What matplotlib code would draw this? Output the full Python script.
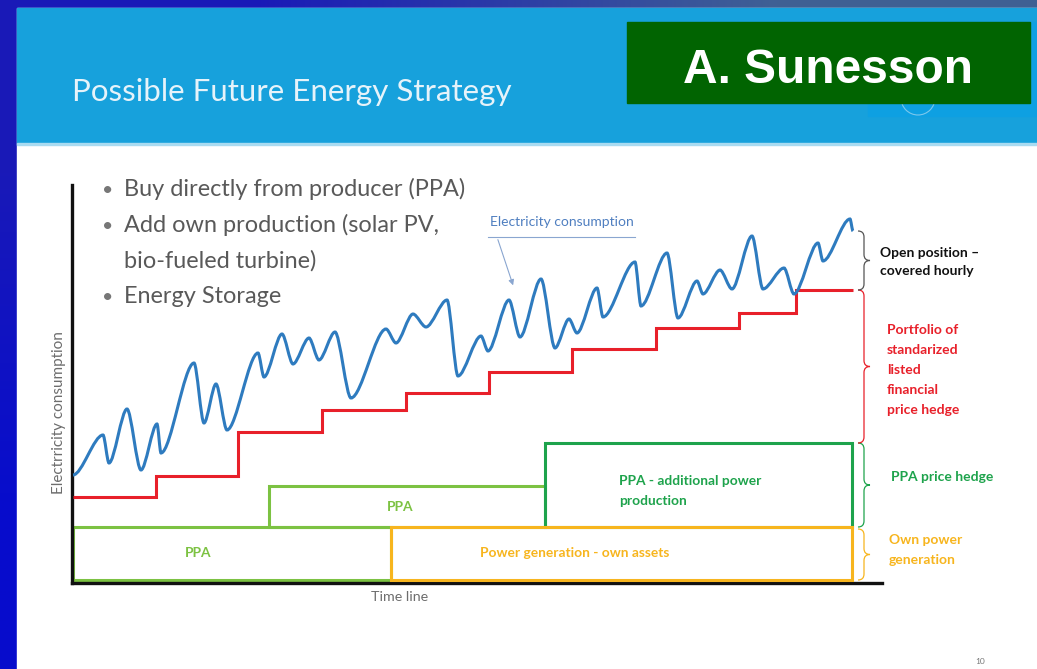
import numpy as np
import matplotlib.pyplot as plt
from matplotlib.patches import Rectangle, PathPatch, Circle
from matplotlib.path import Path

# electricity consumption, peaks and troughs (time, consumption)
curve_t = [1, 31, 37, 55, 69, 85, 89, 122, 132, 144, 155, 186, 192, 210, 221, 237, 247,
           263, 279, 314, 324, 341, 354, 375, 386, 409, 416, 437, 448, 469, 483, 497, 505,
           525, 531, 563, 569, 595, 606, 625, 631, 648, 660, 680, 691, 712, 722, 746, 751,
           778, 781]
curve_c = [108, 148, 120, 174, 113, 159, 130, 220, 160, 199, 153, 230, 206, 249, 219, 245, 223,
           251, 185, 254, 240, 269, 256, 283, 207, 247, 232, 283, 246, 304, 235, 264, 250,
           295, 266, 321, 277, 330, 265, 302, 289, 313, 294, 347, 294, 315, 289, 340, 322,
           364, 352]

# listed financial hedge, step levels
step_edges = [1, 84, 166, 250, 334, 417, 500, 584, 667, 724, 781]
step_levels = [86, 107, 151, 173, 190, 211, 234, 255, 270, 293]

# contract blocks: start, end, low, high
box_names = ["PPA", "PPA", "PPA - additional power\nproduction", "Power generation - own assets"]
box_start = [1, 197, 473, 319]
box_end = [319, 473, 780, 780]
box_low = [3, 56, 56, 3]
box_high = [56, 97, 140, 56]
box_colors = ["#7cc242", "#7cc242", "#1ea34c", "#f7b51e"]

# right hand braces (low, high)
brace_low = [3, 56, 140, 293]
brace_high = [54, 140, 293, 352]
brace_colors = ["#f7b51e", "#1ea34c", "#e8202a", "#555555"]

bullets = ["Buy directly from producer (PPA)", "Add own production (solar PV,",
           "bio-fueled turbine)", "Energy Storage"]

FONT = "Lato"

fig = plt.figure(figsize=(10.37, 6.69), dpi=100)

# slide background (pixel coordinates)
bg = fig.add_axes([0, 0, 1, 1])
bg.set_xlim(0, 1037)
bg.set_ylim(669, 0)
bg.axis("off")
grad = np.array([[[0.10, 0.10, 0.72], [0.25, 0.38, 0.58]],
                 [[0.03, 0.05, 0.80], [0.10, 0.20, 0.70]]])
bg.imshow(grad, extent=(0, 1037, 669, 0), interpolation="bilinear", aspect="auto")
bg.add_patch(Rectangle((17, 8), 1020, 661, color="white"))
bg.add_patch(Rectangle((17, 8), 1020, 136, color="#17a1dc"))
bg.add_patch(Rectangle((17, 143), 1020, 2, color="#a9dbf1"))
bg.add_patch(Rectangle((868, 22), 169, 94, color="#0ea0e2"))
bg.add_patch(Circle((918, 98), 17, fill=False, color="#7cc8ec", lw=0.8))
bg.add_patch(Rectangle((627, 22), 403, 81, color="#016401"))
bg.text(828, 83, "A. Sunesson", color="white", fontsize=34.5, fontweight="bold",
        family="Liberation Sans", ha="center", va="baseline")
bg.text(72, 101, "Possible Future Energy Strategy", color="#e6f3fa", fontsize=22.5,
        family=FONT, va="baseline")
for i, line in enumerate(bullets):
    y = 196 + i * 35.7
    if i != 2:
        bg.text(102, y, "\u2022", color="#777777", fontsize=14, family=FONT, va="baseline")
    bg.text(124, y, line, color="#595959", fontsize=16.9, family=FONT, va="baseline")
bg.text(980, 661, "10", color="#777777", fontsize=6, family=FONT, ha="center", va="center")

# chart, 1 unit = 1 pixel, origin at the axis corner
ax = fig.add_axes([72 / 1037, 86 / 669, 965 / 1037, 433 / 669])
ax.set_xlim(0, 965)
ax.set_ylim(0, 433)
ax.patch.set_alpha(0)
ax.set_xticks([])
ax.set_yticks([])
for s in ["top", "right"]:
    ax.spines[s].set_visible(False)
ax.spines["left"].set_bounds(0, 398)
ax.spines["bottom"].set_bounds(0, 810)
for s in ["left", "bottom"]:
    ax.spines[s].set_linewidth(2.4)
    ax.spines[s].set_color("#111111")

# boxes
for i in range(len(box_names)):
    ax.bar(box_start[i], box_high[i] - box_low[i], width=box_end[i] - box_start[i],
           bottom=box_low[i], align="edge", fill=False,
           edgecolor=box_colors[i], linewidth=2.2, zorder=2 + (i == 3))

ax.text(126, 30, box_names[0], color="#7cc242", fontsize=9.9, fontweight="bold",
        family=FONT, ha="center", va="center")
ax.text(328, 76, box_names[1], color="#7cc242", fontsize=9.9, fontweight="bold",
        family=FONT, ha="center", va="center")
ax.text(547, 92, box_names[2], color="#1ea34c", fontsize=9.9, fontweight="bold",
        family=FONT, ha="left", va="center", linespacing=1.85)
ax.text(503, 30, box_names[3], color="#f7b51e", fontsize=9.9, fontweight="bold",
        family=FONT, ha="center", va="center")

# hedge steps
ax.stairs(step_levels, step_edges, baseline=None, color="#e8202a", linewidth=2.2, zorder=4)

# smooth consumption curve through the read points
verts = [(curve_t[0], curve_c[0])]
codes = [Path.MOVETO]
for i in range(len(curve_t) - 1):
    d = (curve_t[i + 1] - curve_t[i]) / 3.3
    verts += [(curve_t[i] + d, curve_c[i]), (curve_t[i + 1] - d, curve_c[i + 1]),
              (curve_t[i + 1], curve_c[i + 1])]
    codes += [Path.CURVE4] * 3
ax.add_patch(PathPatch(Path(verts, codes), fill=False, edgecolor="#2e7bbf",
                       linewidth=2.2, zorder=5))

# annotation
ax.text(418, 361, "Electricity consumption", color="#4f7fc0", fontsize=10,
        family=FONT, va="center")
ax.plot([416, 563], [346, 346], color="#8aa6d0", lw=0.8)
ax.annotate("", xy=(442, 295), xytext=(425, 346),
            arrowprops=dict(arrowstyle="-|>", color="#8aa6d0", lw=0.8, mutation_scale=8))


def brace(x, y0, y1, color, w=12):
    ym = (y0 + y1) / 2
    r = min(6, (y1 - y0) / 4)
    h = x + w / 2
    v = [(x, y1), (h, y1), (h, y1 - r), (h, ym + r), (h, ym), (x + w, ym),
         (h, ym), (h, ym - r), (h, y0 + r), (h, y0), (x, y0)]
    c = [Path.MOVETO, Path.CURVE3, Path.CURVE3, Path.LINETO, Path.CURVE3, Path.CURVE3,
         Path.CURVE3, Path.CURVE3, Path.LINETO, Path.CURVE3, Path.CURVE3]
    ax.add_patch(PathPatch(Path(v, c), fill=False, edgecolor=color, lw=0.9, clip_on=False))


for i in range(len(brace_low)):
    brace(786, brace_low[i], brace_high[i], brace_colors[i])

ax.text(808, 321, "Open position \u2013\ncovered hourly", color="#111111", fontsize=10,
        fontweight="bold", family=FONT, va="center", linespacing=1.65)
ax.text(815, 213, "Portfolio of\nstandarized\nlisted\nfinancial\nprice hedge", color="#e8202a",
        fontsize=10, fontweight="bold", family=FONT, va="center", linespacing=1.8)
ax.text(819, 106, "PPA price hedge", color="#1ea34c", fontsize=10, fontweight="bold",
        family=FONT, va="center")
ax.text(817, 33, "Own power\ngeneration", color="#f7b51e", fontsize=10, fontweight="bold",
        family=FONT, va="center", linespacing=1.75)

ax.text(-13, 170, "Electrricity consumption", color="#6d6d6d", fontsize=11, family=FONT,
        rotation=90, ha="center", va="center")
ax.text(328, -14, "Time line", color="#6d6d6d", fontsize=10.3, family=FONT,
        ha="center", va="center")

fig.savefig("out.png", dpi=100)
